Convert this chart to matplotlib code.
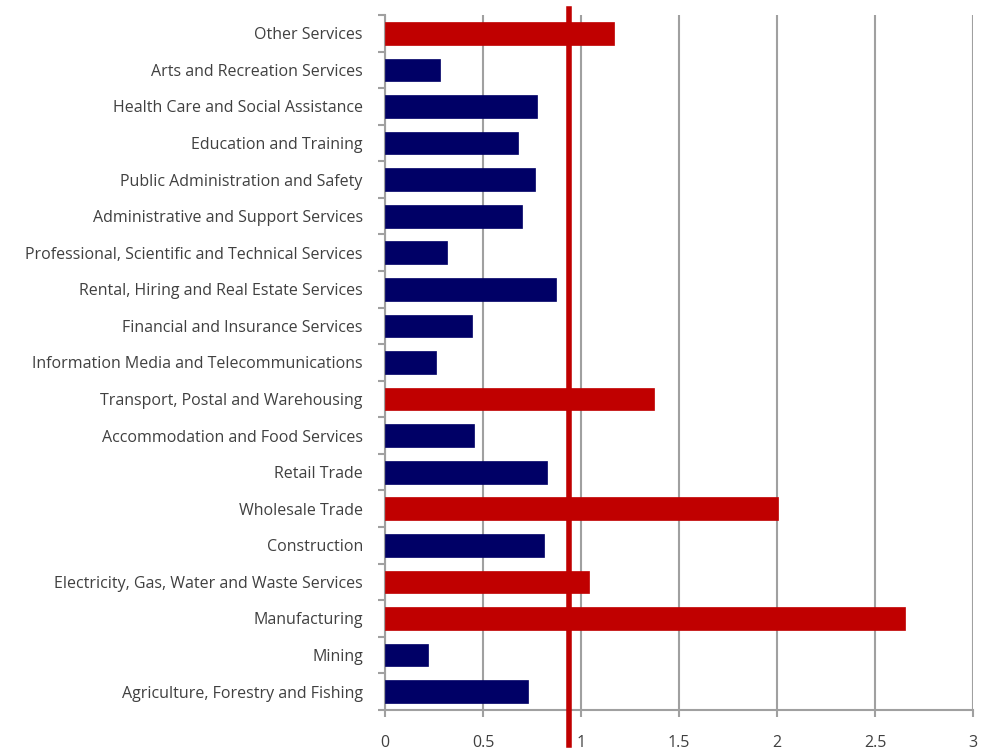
import matplotlib.pyplot as plt

industries = [
    "Agriculture, Forestry and Fishing",
    "Mining",
    "Manufacturing",
    "Electricity, Gas, Water and Waste Services",
    "Construction",
    "Wholesale Trade",
    "Retail Trade",
    "Accommodation and Food Services",
    "Transport, Postal and Warehousing",
    "Information Media and Telecommunications",
    "Financial and Insurance Services",
    "Rental, Hiring and Real Estate Services",
    "Professional, Scientific and Technical Services",
    "Administrative and Support Services",
    "Public Administration and Safety",
    "Education and Training",
    "Health Care and Social Assistance",
    "Arts and Recreation Services",
    "Other Services",
]
values = [0.73, 0.22, 2.65, 1.04, 0.81, 2.005, 0.827, 0.454, 1.37, 0.26,
          0.444, 0.87, 0.316, 0.70, 0.765, 0.68, 0.775, 0.28, 1.17]
ref_line = 0.94
xticks = [0, 0.5, 1, 1.5, 2, 2.5, 3]
xticklabels = ["0", "0.5", "1", "1.5", "2", "2.5", "3"]

plt.rcParams['font.family'] = ['Open Sans', 'DejaVu Sans']

fig = plt.figure(figsize=(9.95, 7.52), dpi=100)
ax = fig.add_axes([0.387, 0.056, 0.591, 0.924])

colors = ["#C00000" if v > 1 else "#000066" for v in values]
pos = list(range(len(industries)))
ax.barh(pos, values, height=0.62, color=colors, edgecolor=colors, linewidth=0.5, zorder=3)

ax.axvline(ref_line, ymin=-0.05, ymax=1.009, color="#C00000", linewidth=4, clip_on=False, zorder=4)

ax.set_xlim(0, 3)
ax.set_ylim(-0.5, len(industries) - 0.5)
ax.set_xticks(xticks)
ax.set_xticklabels(xticklabels)
ax.xaxis.grid(True, color="#A0A0A0", linewidth=1.5, zorder=0)

ax.set_yticks(pos)
ax.set_yticklabels(industries)
ax.set_yticks([p - 0.5 for p in pos] + [len(industries) - 0.5], minor=True)
ax.tick_params(axis='y', which='major', length=0, pad=16, labelsize=11.5, labelcolor="#404040")
ax.tick_params(axis='y', which='minor', length=5, width=1.5, color="#A0A0A0")
ax.tick_params(axis='x', length=5, width=1.5, color="#A0A0A0", pad=13, labelsize=11.5, labelcolor="#404040")

for side in ["top", "right"]:
    ax.spines[side].set_visible(False)
for side in ["left", "bottom"]:
    ax.spines[side].set_color("#A0A0A0")
    ax.spines[side].set_linewidth(1.5)

fig.savefig("out.png", dpi=100)
